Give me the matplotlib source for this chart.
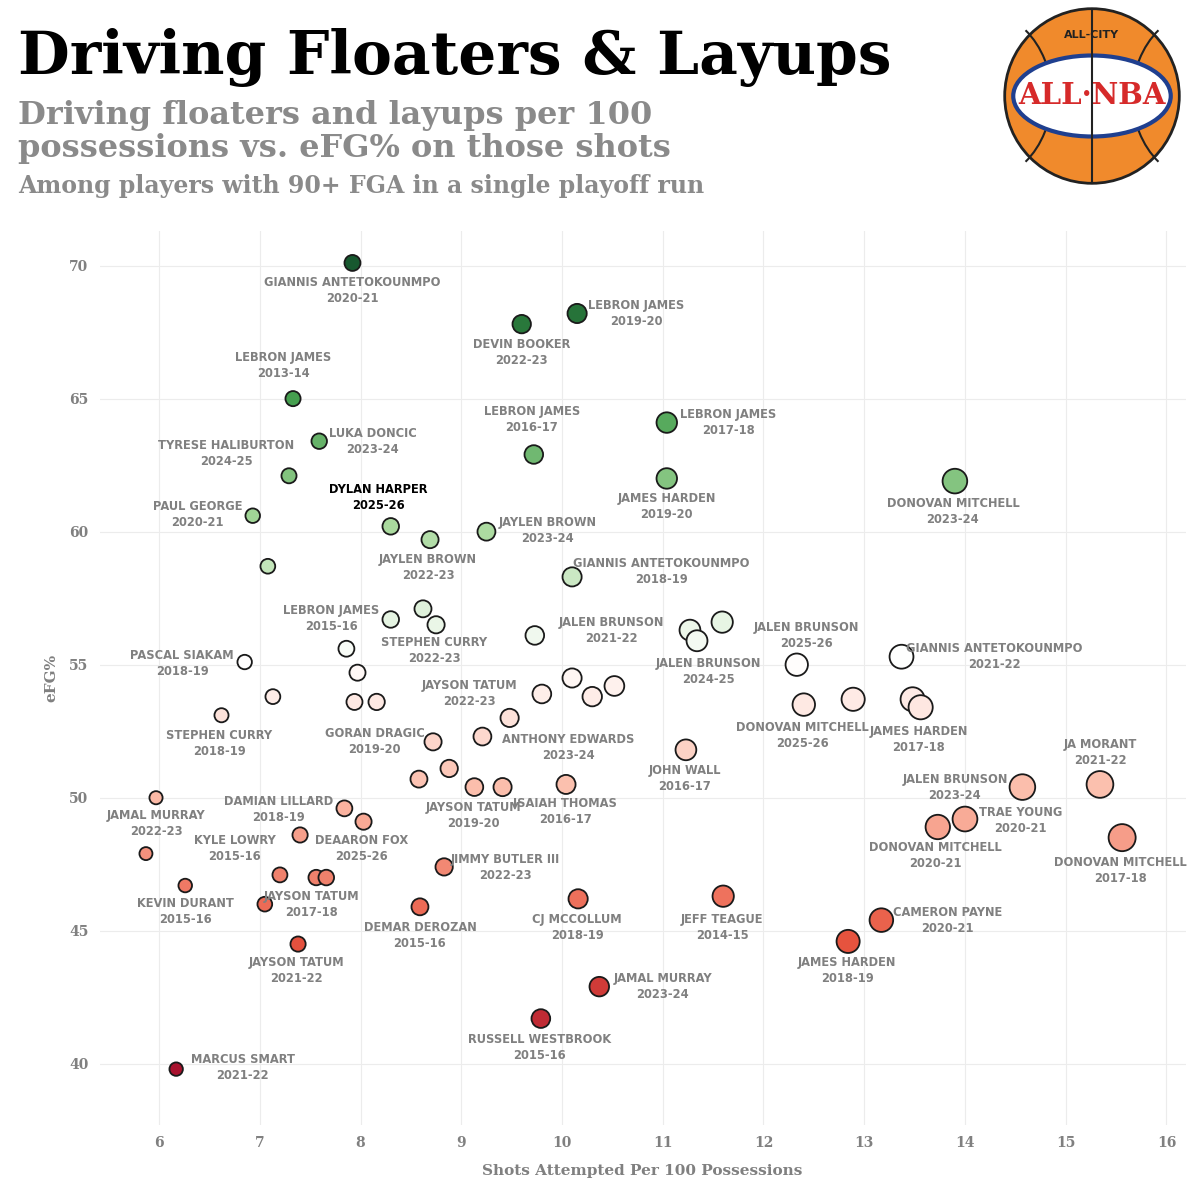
import matplotlib.pyplot as plt
import numpy as np
from matplotlib.colors import LinearSegmentedColormap, TwoSlopeNorm
from matplotlib.patches import Circle, Ellipse, Arc

# point data: shots per 100 poss, eFG%
shots = [7.92, 10.15, 9.60, 7.33, 7.59, 9.72, 11.04, 11.04, 7.29, 13.90,
         6.93, 8.30, 8.69, 9.25, 7.08, 10.10, 8.30, 8.62, 8.75, 9.73,
         11.27, 11.34, 11.59, 12.33, 13.37, 6.85, 7.86, 7.97, 7.13, 7.94,
         8.16, 9.80, 10.10, 10.30, 10.52, 9.48, 12.40, 12.89, 13.48, 13.56,
         6.62, 8.72, 9.21, 11.23, 8.58, 8.88, 9.13, 9.41, 10.04, 5.97,
         7.84, 8.03, 14.57, 15.34, 14.00, 13.73, 15.56, 7.40, 5.87, 6.26,
         7.20, 7.05, 7.56, 7.66, 8.83, 8.59, 10.16, 11.60, 13.17, 12.84,
         7.38, 10.37, 9.79, 6.17]
efg = [70.1, 68.2, 67.8, 65.0, 63.4, 62.9, 64.1, 62.0, 62.1, 61.9,
       60.6, 60.2, 59.7, 60.0, 58.7, 58.3, 56.7, 57.1, 56.5, 56.1,
       56.3, 55.9, 56.6, 55.0, 55.3, 55.1, 55.6, 54.7, 53.8, 53.6,
       53.6, 53.9, 54.5, 53.8, 54.2, 53.0, 53.5, 53.7, 53.7, 53.4,
       53.1, 52.1, 52.3, 51.8, 50.7, 51.1, 50.4, 50.4, 50.5, 50.0,
       49.6, 49.1, 50.4, 50.5, 49.2, 48.9, 48.5, 48.6, 47.9, 46.7,
       47.1, 46.0, 47.0, 47.0, 47.4, 45.9, 46.2, 46.3, 45.4, 44.6,
       44.5, 42.9, 41.7, 39.8]

# labels: text, x, y (data coords of label centre)
labels = [
    ("GIANNIS ANTETOKOUNMPO\n2020-21", 7.92, 69.06),
    ("LEBRON JAMES\n2019-20", 10.74, 68.2),
    ("DEVIN BOOKER\n2022-23", 9.60, 66.73),
    ("LEBRON JAMES\n2013-14", 7.23, 66.24),
    ("LUKA DONCIC\n2023-24", 8.12, 63.39),
    ("LEBRON JAMES\n2016-17", 9.70, 64.22),
    ("LEBRON JAMES\n2017-18", 11.65, 64.10),
    ("JAMES HARDEN\n2019-20", 11.04, 60.95),
    ("TYRESE HALIBURTON\n2024-25", 6.67, 62.94),
    ("DONOVAN MITCHELL\n2023-24", 13.88, 60.76),
    ("PAUL GEORGE\n2020-21", 6.38, 60.65),
    ("JAYLEN BROWN\n2022-23", 8.67, 58.66),
    ("JAYLEN BROWN\n2023-24", 9.86, 60.05),
    ("GIANNIS ANTETOKOUNMPO\n2018-19", 10.99, 58.51),
    ("LEBRON JAMES\n2015-16", 7.71, 56.74),
    ("STEPHEN CURRY\n2022-23", 8.73, 55.54),
    ("JALEN BRUNSON\n2021-22", 10.49, 56.29),
    ("JALEN BRUNSON\n2024-25", 11.45, 54.75),
    ("JALEN BRUNSON\n2025-26", 12.43, 56.11),
    ("GIANNIS ANTETOKOUNMPO\n2021-22", 14.29, 55.32),
    ("PASCAL SIAKAM\n2018-19", 6.23, 55.06),
    ("JAYSON TATUM\n2022-23", 9.08, 53.93),
    ("ANTHONY EDWARDS\n2023-24", 10.06, 51.90),
    ("DONOVAN MITCHELL\n2025-26", 12.39, 52.35),
    ("JAMES HARDEN\n2017-18", 13.54, 52.20),
    ("STEPHEN CURRY\n2018-19", 6.60, 52.05),
    ("GORAN DRAGIC\n2019-20", 8.14, 52.13),
    ("JOHN WALL\n2016-17", 11.22, 50.74),
    ("JAYSON TATUM\n2019-20", 9.12, 49.35),
    ("ISAIAH THOMAS\n2016-17", 10.03, 49.50),
    ("JAMAL MURRAY\n2022-23", 5.97, 49.05),
    ("DAMIAN LILLARD\n2018-19", 7.19, 49.57),
    ("JALEN BRUNSON\n2023-24", 13.90, 50.40),
    ("JA MORANT\n2021-22", 15.34, 51.71),
    ("TRAE YOUNG\n2020-21", 14.55, 49.16),
    ("DONOVAN MITCHELL\n2020-21", 13.71, 47.84),
    ("DONOVAN MITCHELL\n2017-18", 15.54, 47.28),
    ("KYLE LOWRY\n2015-16", 6.75, 48.11),
    ("DEAARON FOX\n2025-26", 8.01, 48.11),
    ("KEVIN DURANT\n2015-16", 6.26, 45.74),
    ("JAYSON TATUM\n2017-18", 7.51, 45.97),
    ("JIMMY BUTLER III\n2022-23", 9.44, 47.39),
    ("DEMAR DEROZAN\n2015-16", 8.59, 44.84),
    ("CJ MCCOLLUM\n2018-19", 10.15, 45.14),
    ("JEFF TEAGUE\n2014-15", 11.59, 45.14),
    ("CAMERON PAYNE\n2020-21", 13.83, 45.40),
    ("JAMES HARDEN\n2018-19", 12.83, 43.49),
    ("JAYSON TATUM\n2021-22", 7.36, 43.49),
    ("JAMAL MURRAY\n2023-24", 11.00, 42.89),
    ("RUSSELL WESTBROOK\n2015-16", 9.78, 40.63),
    ("MARCUS SMART\n2021-22", 6.83, 39.85),
]
highlight = ("DYLAN HARPER\n2025-26", 8.18, 61.29)

x_ticks = list(range(6, 17))
y_ticks = [40, 45, 50, 55, 60, 65, 70]

cmap = LinearSegmentedColormap.from_list(
    "rwg", ["#a50f2d", "#e8553f", "#fbb9a6", "#ffffff", "#a8d99c", "#3c9a48", "#14532d"])
norm = TwoSlopeNorm(vmin=39.5, vcenter=55.2, vmax=70.5)

fig = plt.figure(figsize=(12, 12), dpi=100)
ax = fig.add_axes([0.083, 0.0625, 0.905, 0.745])

x = np.array(shots)
diam = 1.45 * x + 4.5
ax.scatter(shots, efg, s=(diam * 0.72) ** 2, c=efg, cmap=cmap, norm=norm,
           edgecolors="#1a1a1a", linewidths=1.3, zorder=3)

lab_kw = dict(ha="center", va="center", fontsize=8.3, fontweight="bold",
              family="DejaVu Sans", linespacing=1.3)
for t, lx, ly in labels:
    ax.text(lx, ly, t, color="#808080", zorder=4, **lab_kw)
ax.text(highlight[1], highlight[2], highlight[0], color="black", zorder=4, **lab_kw)

ax.set_xlim(5.41, 16.19)
ax.set_ylim(37.7, 71.3)
ax.set_xticks(x_ticks)
ax.set_yticks(y_ticks)
for s in ax.spines.values():
    s.set_visible(False)
ax.grid(color="#ececec", linewidth=0.8)
ax.set_axisbelow(True)
ax.tick_params(length=0, labelsize=10, labelcolor="#808080", pad=8)
for lab in ax.get_xticklabels() + ax.get_yticklabels():
    lab.set_fontweight("bold")
    lab.set_family("DejaVu Serif")
ax.set_xlabel("Shots Attempted Per 100 Possessions", fontsize=11, fontweight="bold",
              color="#808080", family="DejaVu Serif", labelpad=10)
ax.set_ylabel("eFG%", fontsize=11, fontweight="bold", color="#808080",
              family="DejaVu Serif", labelpad=8)

fig.text(0.015, 0.952, "Driving Floaters & Layups", fontsize=43, fontweight="heavy",
         family="DejaVu Serif", color="black", va="center")
fig.text(0.015, 0.890, "Driving floaters and layups per 100\npossessions vs. eFG% on those shots",
         fontsize=23, fontweight="bold", family="DejaVu Serif", color="#8a8a8a",
         va="center", linespacing=1.1)
fig.text(0.015, 0.845, "Among players with 90+ FGA in a single playoff run",
         fontsize=17, fontweight="bold", family="DejaVu Serif", color="#8a8a8a", va="center")

# logo
lax = fig.add_axes([0.835, 0.845, 0.15, 0.15])
lax.set_xlim(-1, 1)
lax.set_ylim(-1, 1)
lax.set_aspect("equal")
lax.axis("off")
lax.add_patch(Circle((0, 0), 0.97, facecolor="#f08a2c", edgecolor="#222222", lw=2))
lax.add_patch(Arc((-1.25, 0), 1.6, 1.9, theta1=-55, theta2=55, color="#222222", lw=1.5))
lax.add_patch(Arc((1.25, 0), 1.6, 1.9, theta1=125, theta2=235, color="#222222", lw=1.5))
lax.plot([0, 0], [-0.97, 0.97], color="#222222", lw=1.5)
lax.add_patch(Ellipse((0, 0), 1.75, 0.9, facecolor="white", edgecolor="#1f3f8f", lw=3))
lax.text(0, 0, "ALL·NBA", ha="center", va="center", fontsize=21, fontweight="bold",
         color="#d62a2a", family="DejaVu Serif")
lax.text(0, 0.68, "ALL-CITY", ha="center", va="center", fontsize=8, fontweight="bold",
         color="#222222")

fig.savefig("out.png", dpi=100, facecolor="white")
